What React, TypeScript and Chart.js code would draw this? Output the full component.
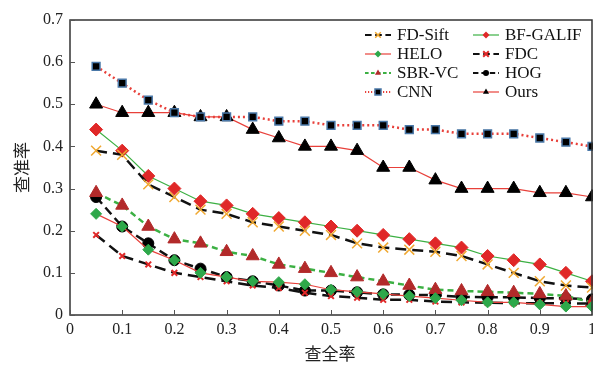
import React, { useEffect, useRef } from "react";
import { Chart, registerables } from "chart.js";
Chart.register(...registerables);

const recall = [0.05, 0.1, 0.15, 0.2, 0.25, 0.3, 0.35, 0.4, 0.45, 0.5, 0.55, 0.6, 0.65, 0.7, 0.75, 0.8, 0.85, 0.9, 0.95, 1.0];
const fdSift = [0.39, 0.38, 0.31, 0.28, 0.25, 0.24, 0.22, 0.21, 0.2, 0.19, 0.17, 0.16, 0.155, 0.15, 0.14, 0.12, 0.1, 0.08, 0.07, 0.065];
const bfGalif = [0.44, 0.39, 0.33, 0.3, 0.27, 0.26, 0.24, 0.23, 0.22, 0.21, 0.2, 0.19, 0.18, 0.17, 0.16, 0.14, 0.13, 0.12, 0.1, 0.08];
const helo = [0.24, 0.21, 0.155, 0.13, 0.1, 0.09, 0.08, 0.078, 0.073, 0.06, 0.055, 0.05, 0.045, 0.04, 0.035, 0.03, 0.03, 0.025, 0.02, 0.02];
const fdc = [0.19, 0.14, 0.12, 0.1, 0.09, 0.08, 0.07, 0.064, 0.053, 0.045, 0.041, 0.036, 0.036, 0.032, 0.03, 0.029, 0.028, 0.028, 0.028, 0.027];
const sbrVc = [0.29, 0.26, 0.21, 0.18, 0.17, 0.15, 0.14, 0.12, 0.11, 0.1, 0.09, 0.08, 0.07, 0.06, 0.057, 0.055, 0.053, 0.05, 0.045, 0.03];
const hog = [0.28, 0.21, 0.17, 0.13, 0.11, 0.09, 0.08, 0.07, 0.058, 0.058, 0.054, 0.049, 0.048, 0.047, 0.043, 0.042, 0.042, 0.04, 0.04, 0.037];
const cnn = [0.59, 0.55, 0.51, 0.48, 0.47, 0.47, 0.47, 0.46, 0.46, 0.45, 0.45, 0.45, 0.44, 0.44, 0.43, 0.43, 0.43, 0.42, 0.41, 0.4];
const ours = [0.5, 0.48, 0.48, 0.48, 0.47, 0.47, 0.44, 0.42, 0.4, 0.4, 0.39, 0.35, 0.35, 0.32, 0.3, 0.3, 0.3, 0.29, 0.29, 0.28];

const seriesNames = ["FD-Sift", "BF-GALIF", "HELO", "FDC", "SBR-VC", "HOG", "CNN", "Ours"];
const seriesValues = [fdSift, bfGalif, helo, fdc, sbrVc, hog, cnn, ours];
const xTickValues = [0, 0.1, 0.2, 0.3, 0.4, 0.5, 0.6, 0.7, 0.8, 0.9, 1];
const yTickValues = [0, 0.1, 0.2, 0.3, 0.4, 0.5, 0.6, 0.7];
const xTitle = "查全率";
const yTitle = "查准率";

type Sty = {
  line: string; lw: number; dash: number[];
  pt: string; r: number; fill: string; stroke: string; plw: number;
};

const styles: Sty[] = [
  { line: "#111", lw: 2.5, dash: [11, 6], pt: "crossRot", r: 7, fill: "#f0a830", stroke: "#f0a830", plw: 1.5 },
  { line: "#3cb043", lw: 1.2, dash: [], pt: "rectRot", r: 6.5, fill: "#e02828", stroke: "#e02828", plw: 1 },
  { line: "#e8403a", lw: 1.2, dash: [], pt: "rectRot", r: 5.5, fill: "#2ea84a", stroke: "#2ea84a", plw: 1 },
  { line: "#111", lw: 2.5, dash: [11, 6], pt: "crossRot", r: 4, fill: "#e02828", stroke: "#e02828", plw: 2 },
  { line: "#3cb043", lw: 2.5, dash: [6, 4], pt: "triangle", r: 7.5, fill: "#b22a2a", stroke: "#b22a2a", plw: 1 },
  { line: "#111", lw: 2.5, dash: [9, 5], pt: "circle", r: 5.5, fill: "#000", stroke: "#000", plw: 1 },
  { line: "#e8403a", lw: 2.5, dash: [2, 3], pt: "rect", r: 5.5, fill: "#000", stroke: "#4a78a8", plw: 1.5 },
  { line: "#e8403a", lw: 1.2, dash: [], pt: "triangle", r: 7.5, fill: "#000", stroke: "#000", plw: 1 },
];

function drawMarker(ctx: CanvasRenderingContext2D, s: Sty, x: number, y: number, r: number) {
  ctx.save();
  ctx.setLineDash([]);
  ctx.fillStyle = s.fill;
  ctx.strokeStyle = s.stroke;
  ctx.lineWidth = s.plw;
  ctx.beginPath();
  if (s.pt === "circle") {
    ctx.arc(x, y, r, 0, Math.PI * 2);
    ctx.fill();
  } else if (s.pt === "rect") {
    ctx.rect(x - r, y - r, 2 * r, 2 * r);
    ctx.fill();
    ctx.stroke();
  } else if (s.pt === "rectRot") {
    ctx.moveTo(x, y - r); ctx.lineTo(x + r, y); ctx.lineTo(x, y + r); ctx.lineTo(x - r, y); ctx.closePath();
    ctx.fill();
  } else if (s.pt === "triangle") {
    ctx.moveTo(x, y - r); ctx.lineTo(x + r * 0.87, y + r * 0.5); ctx.lineTo(x - r * 0.87, y + r * 0.5); ctx.closePath();
    ctx.fill();
  } else {
    const d = r * 0.8;
    ctx.moveTo(x - d, y - d); ctx.lineTo(x + d, y + d); ctx.moveTo(x + d, y - d); ctx.lineTo(x - d, y + d);
    ctx.stroke();
  }
  ctx.restore();
}

const decorPlugin = {
  id: "decor",
  afterDraw(chart: any) {
    const ctx: CanvasRenderingContext2D = chart.ctx;
    const a = chart.chartArea;
    const xs = chart.scales.x;
    const ys = chart.scales.y;
    ctx.save();
    ctx.strokeStyle = "#333";
    ctx.lineWidth = 1.5;
    ctx.setLineDash([]);
    ctx.strokeRect(a.left, a.top, a.right - a.left, a.bottom - a.top);
    ctx.lineWidth = 1;
    ctx.strokeStyle = "#555";
    ctx.beginPath();
    xTickValues.forEach((v) => {
      const px = Math.round(xs.getPixelForValue(v)) + 0.5;
      ctx.moveTo(px, a.bottom); ctx.lineTo(px, a.bottom - 5);
    });
    yTickValues.forEach((v) => {
      const py = Math.round(ys.getPixelForValue(v)) + 0.5;
      ctx.moveTo(a.left, py); ctx.lineTo(a.left + 5, py);
    });
    ctx.stroke();
    ctx.fillStyle = "#222";
    ctx.font = '17px "Noto Sans CJK SC"';
    ctx.textAlign = "center";
    ctx.textBaseline = "middle";
    ctx.fillText(xTitle, 330, 354);
    ctx.save();
    ctx.translate(22, (a.top + a.bottom) / 2);
    ctx.rotate(-Math.PI / 2);
    ctx.fillText(yTitle, 0, 0);
    ctx.restore();
    ctx.font = '17px "Liberation Serif"';
    ctx.textAlign = "left";
    ctx.fillStyle = "#111";
    const colX = [365, 473];
    const rowY = [35, 54, 73, 92];
    seriesNames.forEach((name, i) => {
      const s = styles[i];
      const cx = colX[i % 2];
      const cy = rowY[Math.floor(i / 2)];
      ctx.save();
      ctx.strokeStyle = s.line;
      ctx.lineWidth = Math.min(s.lw, 2);
      ctx.setLineDash(s.dash.map((d) => d * 0.6));
      ctx.beginPath();
      ctx.moveTo(cx, cy); ctx.lineTo(cx + 26, cy);
      ctx.stroke();
      ctx.restore();
      drawMarker(ctx, s, cx + 13, cy, s.pt === "circle" || s.pt === "rect" ? 3 : 3.5);
      ctx.fillStyle = "#111";
      ctx.fillText(name, cx + 32, cy + 1);
    });
    ctx.restore();
  },
};

export default function App() {
  const ref = useRef<HTMLCanvasElement>(null);
  useEffect(() => {
    if (!ref.current) return;
    const datasets = seriesNames.map((name, i) => {
      const s = styles[i];
      return {
        label: name,
        data: recall.map((x, j) => ({ x, y: seriesValues[i][j] })),
        borderColor: s.line,
        borderWidth: s.lw,
        borderDash: s.dash,
        pointStyle: s.pt,
        pointRadius: s.r,
        pointBackgroundColor: s.fill,
        pointBorderColor: s.stroke,
        pointBorderWidth: s.plw,
        fill: false,
        tension: 0,
        clip: false as any,
      };
    });
    const chart = new Chart(ref.current, {
      type: "line",
      data: { datasets },
      options: {
        animation: false,
        responsive: false,
        devicePixelRatio: 1,
        layout: { autoPadding: false, padding: { top: 20, right: 1, left: 0, bottom: 0 } },
        plugins: { legend: { display: false }, tooltip: { enabled: false } },
        scales: {
          x: {
            type: "linear",
            min: 0,
            max: 1,
            afterFit: (s: any) => { s.height = 51; s.paddingLeft = 0; s.paddingRight = 0; },
            afterBuildTicks: (s: any) => { s.ticks = xTickValues.map((v) => ({ value: v })); },
            grid: { display: false, drawTicks: false },
            border: { display: false },
            ticks: {
              padding: 5,
              color: "#222",
              font: { family: "Liberation Serif", size: 16 },
              maxRotation: 0,
              autoSkip: false,
              callback: (v: any) => String(Number(Number(v).toFixed(1))),
            },
          },
          y: {
            type: "linear",
            min: 0,
            max: 0.7,
            afterFit: (s: any) => { s.width = 70; s.paddingTop = 0; s.paddingBottom = 0; },
            afterBuildTicks: (s: any) => { s.ticks = yTickValues.map((v) => ({ value: v })); },
            grid: { display: false, drawTicks: false },
            border: { display: false },
            ticks: {
              padding: 7,
              color: "#222",
              font: { family: "Liberation Serif", size: 16 },
              autoSkip: false,
              callback: (v: any) => String(Number(Number(v).toFixed(1))),
            },
          },
        },
      },
      plugins: [decorPlugin],
    });
    return () => chart.destroy();
  }, []);
  return (
    <div style={{ position: "fixed", left: 0, top: 0, width: 593, height: 366, background: "#fff" }}>
      <canvas ref={ref} width={593} height={366} />
    </div>
  );
}
